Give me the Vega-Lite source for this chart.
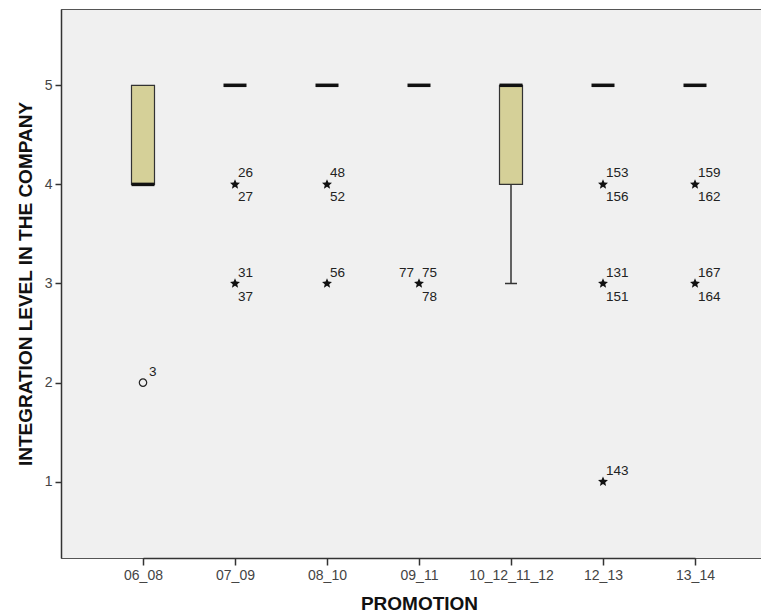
{
  "$schema": "https://vega.github.io/schema/vega-lite/v6.json",
  "autosize": {"type": "none"},
  "padding": {"left": 61, "top": 9, "right": 0, "bottom": 57},
  "width": 700,
  "height": 549,
  "background": "#ffffff",
  "config": {
    "view": {"fill": "#f0f0f0", "stroke": "#555555", "strokeWidth": 1},
    "font": "Liberation Sans",
    "axis": {
      "grid": false,
      "domainColor": "#333333",
      "domainWidth": 1.5,
      "tickColor": "#333333",
      "tickWidth": 1.5,
      "labelFont": "Liberation Sans",
      "labelFontSize": 14,
      "labelColor": "#444444",
      "titleFont": "Liberation Sans",
      "titleFontSize": 19,
      "titleFontWeight": "bold",
      "titleColor": "#111111"
    }
  },
  "datasets": {
    "boxes": [
      {"promotion": "06_08", "lower": 4, "q1": 4, "median": 4, "q3": 5, "upper": 5},
      {"promotion": "07_09", "lower": 5, "q1": 5, "median": 5, "q3": 5, "upper": 5},
      {"promotion": "08_10", "lower": 5, "q1": 5, "median": 5, "q3": 5, "upper": 5},
      {"promotion": "09_11", "lower": 5, "q1": 5, "median": 5, "q3": 5, "upper": 5},
      {"promotion": "10_12_11_12", "lower": 3, "q1": 4, "median": 5, "q3": 5, "upper": 5},
      {"promotion": "12_13", "lower": 5, "q1": 5, "median": 5, "q3": 5, "upper": 5},
      {"promotion": "13_14", "lower": 5, "q1": 5, "median": 5, "q3": 5, "upper": 5}
    ],
    "outliers": [
      {"promotion": "06_08", "value": 2, "kind": "mild", "above": "3", "below": "", "left": ""},
      {"promotion": "07_09", "value": 4, "kind": "extreme", "above": "26", "below": "27", "left": ""},
      {"promotion": "07_09", "value": 3, "kind": "extreme", "above": "31", "below": "37", "left": ""},
      {"promotion": "08_10", "value": 4, "kind": "extreme", "above": "48", "below": "52", "left": ""},
      {"promotion": "08_10", "value": 3, "kind": "extreme", "above": "56", "below": "", "left": ""},
      {"promotion": "09_11", "value": 3, "kind": "extreme", "above": "75", "below": "78", "left": "77"},
      {"promotion": "12_13", "value": 4, "kind": "extreme", "above": "153", "below": "156", "left": ""},
      {"promotion": "12_13", "value": 3, "kind": "extreme", "above": "131", "below": "151", "left": ""},
      {"promotion": "12_13", "value": 1, "kind": "extreme", "above": "143", "below": "", "left": ""},
      {"promotion": "13_14", "value": 4, "kind": "extreme", "above": "159", "below": "162", "left": ""},
      {"promotion": "13_14", "value": 3, "kind": "extreme", "above": "167", "below": "164", "left": ""}
    ]
  },
  "encoding": {
    "x": {
      "field": "promotion",
      "type": "nominal",
      "sort": ["06_08", "07_09", "08_10", "09_11", "10_12_11_12", "12_13", "13_14"],
      "scale": {"type": "point", "range": [82, 634], "padding": 0},
      "axis": {"title": "PROMOTION", "labelAngle": 0, "tickSize": 7, "labelPadding": 3, "titlePadding": 12}
    }
  },
  "layer": [
    {
      "data": {"name": "boxes"},
      "transform": [{"filter": "datum.lower < datum.q1"}],
      "mark": {"type": "rule", "color": "#333333", "strokeWidth": 1.5},
      "encoding": {
        "y": {"field": "lower", "type": "quantitative", "scale": {"domain": [0.23, 5.77], "nice": false, "zero": false},
          "axis": {"title": "INTEGRATION LEVEL IN THE COMPANY", "values": [1, 2, 3, 4, 5], "format": "d", "tickSize": 6, "labelPadding": 3, "titlePadding": 9}},
        "y2": {"field": "q1"}
      }
    },
    {
      "data": {"name": "boxes"},
      "transform": [{"filter": "datum.lower < datum.q1"}],
      "mark": {"type": "tick", "color": "#333333", "opacity": 1, "size": 12, "thickness": 1.5, "orient": "horizontal"},
      "encoding": {"y": {"field": "lower", "type": "quantitative"}}
    },
    {
      "data": {"name": "boxes"},
      "transform": [{"filter": "datum.q1 < datum.q3"}],
      "mark": {"type": "bar", "size": 23, "fill": "#d5d098", "opacity": 1, "stroke": "#333333", "strokeWidth": 1.2},
      "encoding": {
        "y": {"field": "q1", "type": "quantitative"},
        "y2": {"field": "q3"}
      }
    },
    {
      "data": {"name": "boxes"},
      "mark": {"type": "tick", "color": "#111111", "opacity": 1, "size": 23, "thickness": 3.5, "orient": "horizontal"},
      "encoding": {"y": {"field": "median", "type": "quantitative"}}
    },
    {
      "data": {"name": "outliers"},
      "transform": [{"filter": "datum.kind == 'extreme'"}],
      "mark": {"type": "point", "filled": true, "color": "#111111", "size": 110, "opacity": 1,
        "shape": "M0,-1L0.265,-0.364L0.951,-0.309L0.428,0.139L0.588,0.809L0,0.45L-0.588,0.809L-0.428,0.139L-0.951,-0.309L-0.265,-0.364Z"},
      "encoding": {"y": {"field": "value", "type": "quantitative"}}
    },
    {
      "data": {"name": "outliers"},
      "transform": [{"filter": "datum.kind == 'mild'"}],
      "mark": {"type": "point", "shape": "circle", "filled": false, "color": "#222222", "strokeWidth": 1.2, "size": 55, "opacity": 1},
      "encoding": {"y": {"field": "value", "type": "quantitative"}}
    },
    {
      "data": {"name": "outliers"},
      "transform": [{"filter": "datum.kind == 'extreme'"}],
      "mark": {"type": "text", "align": "left", "baseline": "middle", "dx": 3, "dy": -11, "fontSize": 13.5, "color": "#222222"},
      "encoding": {"y": {"field": "value", "type": "quantitative"}, "text": {"field": "above"}}
    },
    {
      "data": {"name": "outliers"},
      "transform": [{"filter": "datum.kind == 'mild'"}],
      "mark": {"type": "text", "align": "left", "baseline": "middle", "dx": 6, "dy": -11, "fontSize": 13.5, "color": "#222222"},
      "encoding": {"y": {"field": "value", "type": "quantitative"}, "text": {"field": "above"}}
    },
    {
      "data": {"name": "outliers"},
      "mark": {"type": "text", "align": "left", "baseline": "middle", "dx": 3, "dy": 13, "fontSize": 13.5, "color": "#222222"},
      "encoding": {"y": {"field": "value", "type": "quantitative"}, "text": {"field": "below"}}
    },
    {
      "data": {"name": "outliers"},
      "mark": {"type": "text", "align": "right", "baseline": "middle", "dx": -5, "dy": -11, "fontSize": 13.5, "color": "#222222"},
      "encoding": {"y": {"field": "value", "type": "quantitative"}, "text": {"field": "left"}}
    }
  ]
}
